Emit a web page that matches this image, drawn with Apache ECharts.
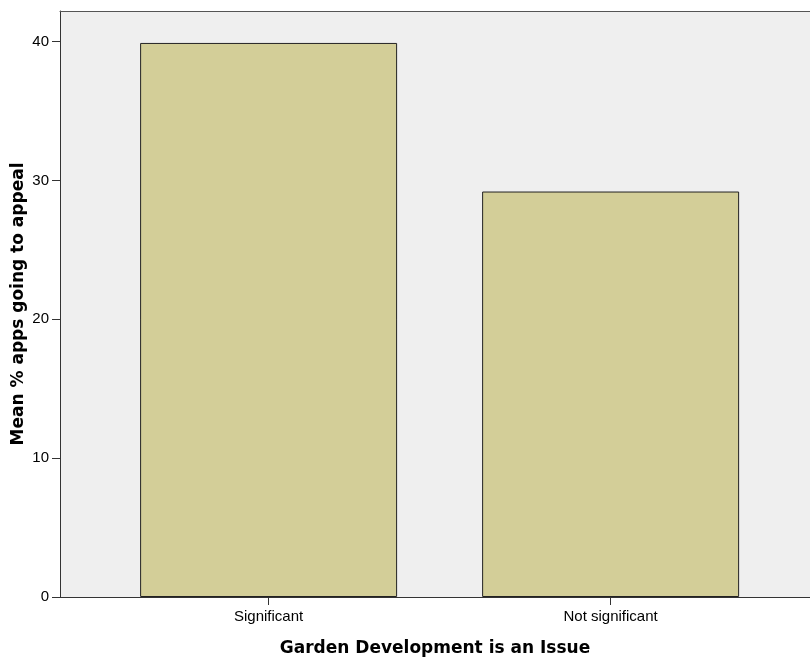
<!DOCTYPE html>
<html>
<head>
<meta charset="utf-8">
<script src="https://cdn.jsdelivr.net/npm/echarts@6/dist/echarts.min.js"></script>
<style>html,body{margin:0;padding:0;background:#fff;}#c{width:810px;height:660px;}</style>
</head>
<body>
<div id="c"></div>
<script>
var categories = ['Significant', 'Not significant'];
var values = [39.9, 29.2];
var yTicks = [0, 10, 20, 30, 40];
var xTitle = 'Garden Development is an Issue';
var yTitle = 'Mean % apps going to appeal';

var positions = categories.map(function (c, i) { return i + 1; });
var seriesData = values.map(function (v, i) { return [positions[i], v]; });

var chart = echarts.init(document.getElementById('c'));
chart.setOption({
  animation: false,
  backgroundColor: '#ffffff',
  grid: {
    left: 60, top: 11, right: 0, bottom: 63,
    outerBoundsMode: 'none',
    containLabel: false,
    show: true, backgroundColor: '#efefef', borderWidth: 0
  },
  xAxis: [{
    type: 'value',
    min: 0.39, max: 2.583,
    name: xTitle,
    nameLocation: 'middle',
    nameGap: 43,
    nameMoveOverlap: false,
    nameTextStyle: { fontFamily: 'DejaVu Sans', fontSize: 17, fontWeight: 'bold', color: '#000' },
    splitLine: { show: false },
    axisLine: { show: true, lineStyle: { color: '#333', width: 1 } },
    axisTick: { show: true, customValues: positions, length: 8, lineStyle: { color: '#333' } },
    axisLabel: {
      customValues: positions,
      formatter: function (v) { return categories[Math.round(v) - 1] || ''; },
      fontFamily: 'Liberation Sans', fontSize: 15, color: '#000', margin: 12
    }
  }, {
    type: 'value',
    position: 'top',
    min: 0.39, max: 2.583,
    splitLine: { show: false },
    axisLine: { show: true, lineStyle: { color: '#555', width: 1 } },
    axisTick: { show: false },
    axisLabel: { show: false }
  }],
  yAxis: {
    type: 'value',
    min: 0, max: 42.2,
    name: yTitle,
    nameLocation: 'middle',
    nameGap: 33,
    nameMoveOverlap: false,
    nameTextStyle: { fontFamily: 'DejaVu Sans', fontSize: 17, fontWeight: 'bold', color: '#000' },
    splitLine: { show: false },
    axisLine: { show: true, lineStyle: { color: '#333', width: 1 } },
    axisTick: { show: true, customValues: yTicks, length: 8, lineStyle: { color: '#333' } },
    axisLabel: { customValues: yTicks, fontFamily: 'Liberation Sans', fontSize: 15, color: '#000', margin: 11 }
  },
  series: [{
    type: 'bar',
    xAxisIndex: 0,
    data: seriesData,
    barWidth: 257,
    itemStyle: { color: '#d3ce98', borderColor: '#222', borderWidth: 1 }
  }]
});
</script>
</body>
</html>
